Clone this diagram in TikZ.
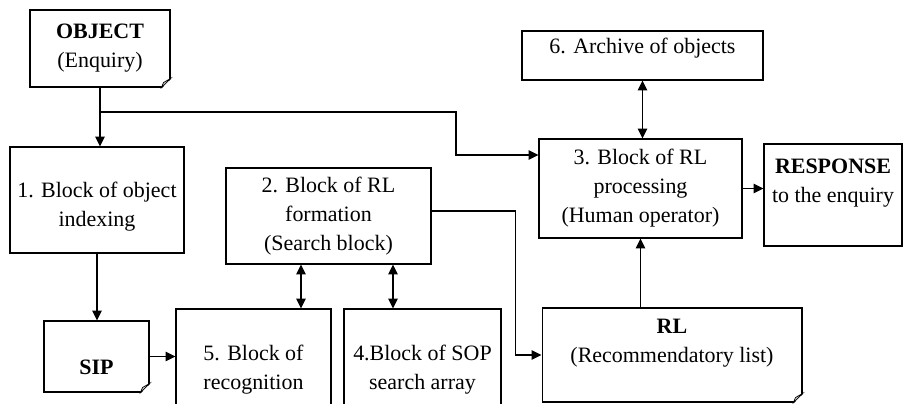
\documentclass[tikz,border=0pt]{standalone}
\usepackage{fontspec}
\setmainfont{Liberation Serif}
\usetikzlibrary{arrows.meta}
\usetikzlibrary{calc}

\begin{document}
\begin{tikzpicture}[x=0.02cm,y=-0.02cm,line width=0.6pt,
    >={Triangle[length=5.6pt,width=5.4pt]},
    blk/.style={draw,rectangle,align=center,inner sep=0pt,
        font=\fontsize{12.5pt}{16.5pt}\selectfont}]
    \useasboundingbox (0,0) rectangle (904,403);
    \clip (0,0) rectangle (904,403);

    % blocks
    \node[blk,minimum width=2.8cm,minimum height=1.54cm] (obj) at (100,48.5) {\textbf{OBJECT}\\(Enquiry)};
    \node[blk,minimum width=3.48cm,minimum height=2.12cm] (idx) at (97,200) {\mbox{}\\1. Block of object\\indexing};
    \node[blk,minimum width=2.1cm,minimum height=1.42cm,text height=20.2pt,text depth=0pt] (sip) at (96.5,356.5) {\textbf{SIP}};
    \node[blk,minimum width=3.1cm,minimum height=2.44cm] (rec) at (253.5,370) {5. Block of\\recognition};
    \node[blk,minimum width=3.14cm,minimum height=2.44cm] (sop) at (422.5,370) {4.Block of SOP\\search array};
    \node[blk,minimum width=4.1cm,minimum height=1.92cm] (srch) at (328.5,216) {2. Block of RL\\formation\\(Search block)};
    \node[blk,minimum width=4.06cm,minimum height=1.98cm] (proc) at (640.5,188.5) {3. Block of RL\\processing\\(Human operator)};
    \node[blk,minimum width=4.82cm,minimum height=0.98cm,text height=8pt,text depth=10.5pt] (arch) at (642.5,55.5) {6. Archive of objects};
    \node[blk,minimum width=2.76cm,minimum height=2.04cm] (resp) at (833,195) {\textbf{RESPONSE}\\to the enquiry\\\mbox{}};
    \node[blk,minimum width=5.2cm,minimum height=1.88cm] (rl) at (672,355) {\textbf{RL}\\(Recommendatory list)\\\mbox{}};

    % folded corners
    \foreach \n in {obj,sip,rl}{
        \fill[white] ($(\n.south east)+(1,1)$) -- ($(\n.south east)+(-9,1)$) -- ($(\n.south east)+(1,-9)$) -- cycle;
        \draw[fill=gray!35,line width=0.4pt] ($(\n.south east)+(-9,0)$) -- ($(\n.south east)+(-7,-5)$) -- ($(\n.south east)+(0,-9)$) -- cycle;
    }

    % connections
    \coordinate (br) at (100,112);
    \coordinate (bend) at (456,155);
    \coordinate (a5) at ([xshift=0.95cm]rec.north);
    \coordinate (a4) at ([xshift=-0.59cm]sop.north);
    \draw[->] (obj.south) -- (obj.south |- idx.north);
    \draw[->] (br) -| (bend) -- (bend -| proc.west);
    \draw[->] (idx.south) -- (idx.south |- sip.north);
    \draw[->] (sip.east) -- (sip.east -| rec.west);
    \draw[<->] (a5) -- (a5 |- srch.south);
    \draw[<->] (a4) -- (a4 |- srch.south);
    \draw[->] ([yshift=0.1cm]srch.east) -| ([xshift=-0.52cm]rl.west) -- (rl.west);
    \draw[->] (rl.north -| proc.south) -- (proc.south);
    \draw[<->] (arch.south) -- (arch.south |- proc.north);
    \draw[->] (proc.east) -- (proc.east -| resp.west);
\end{tikzpicture}
\end{document}
